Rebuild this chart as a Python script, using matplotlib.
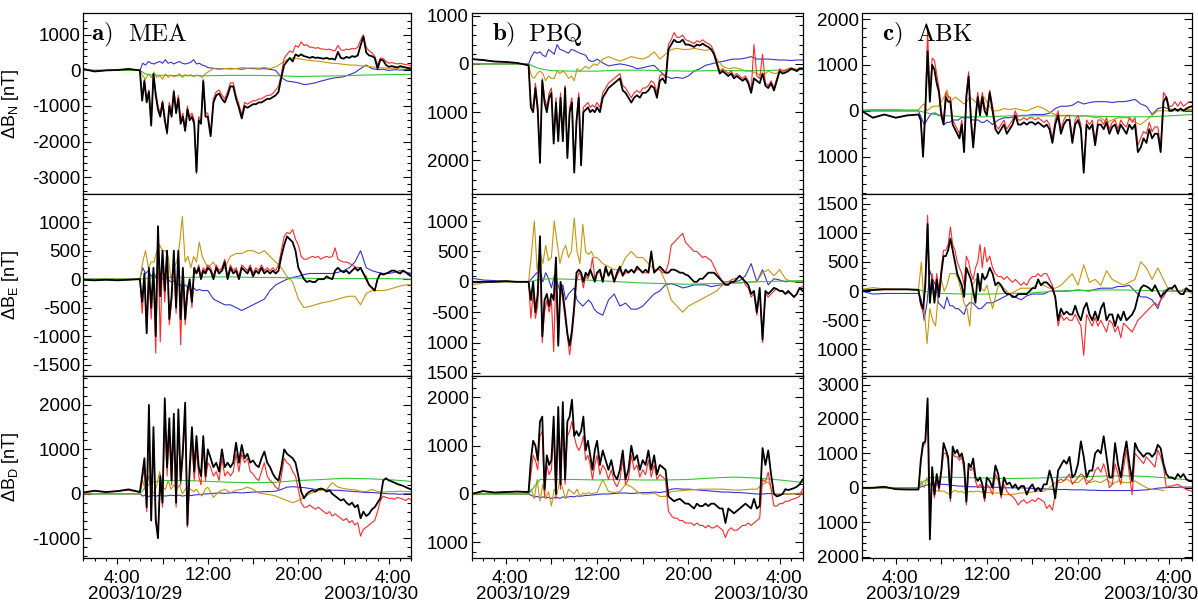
import numpy as np
import matplotlib
matplotlib.use('Agg')
import matplotlib.pyplot as plt
from matplotlib.ticker import FixedLocator, MultipleLocator, AutoMinorLocator

plt.rcParams['font.family'] = ['Liberation Sans', 'DejaVu Sans']
plt.rcParams['mathtext.fontset'] = 'custom'
plt.rcParams['mathtext.rm'] = 'Liberation Sans'
plt.rcParams['mathtext.it'] = 'Liberation Sans:italic'
plt.rcParams['mathtext.bf'] = 'Liberation Sans:bold'

nan = float('nan')

def flat(rows):
    return np.array([v for r in rows for v in r], dtype=float)

# ---------------- time grids (hours since 2003/10/29 00:00 UT) ----------------
T_KR = np.concatenate([np.arange(1.0, 6.5, 1.0), 6.0 + 0.2 * np.arange(1, 31), 12.0 + 0.25 * np.arange(1, 73)])
T_B = np.concatenate([np.arange(1.0, 6.5, 1.0), 6.0 + 0.25 * np.arange(1, 25), 12.0 + 0.5 * np.arange(1, 37)])
T_G = np.array([1, 3, 5, 6, 6.5, 7, 8, 10, 12, 14, 16, 18, 20, 22, 24, 26, 28, 30], dtype=float)

# ================= MEA =================
MEA_N_black = flat([
    [40, -30, 0, 10, 40, 0],
    [-850, -300, -900, -600, -1550], [-100, -700, -1100, -1300, -900], [-1400, -1750, -1000, -1300, -600],
    [-1200, -800, -1500, -1300, -1700], [-1100, -1400, -1300, -1500, -2850], [-1400, -1500, -300, -1300, -1300],
    [-1850, -900, -700, -650], [-800, -900, -700, -450], [-450, -800, -1050, -1350], [-1000, -1050, -1000, -950],
    [-950, -900, -900, -850], [-800, -800, -750, -700], [-600, -200, 150, 250], [350, 250, 450, 400],
    [450, 400, 380, 350], [380, 350, 360, 340], [330, 350, 320, 330], [300, 520, 350, 330],
    [380, 350, 400, 380], [420, 700, 950, 500], [420, 400, 350, 50], [300, 280, 150, 100],
    [120, 100, 80, 120], [100, 80, 60, 50]])
MEA_N_red = flat([
    [40, -30, 0, 10, 40, 0],
    [-800, -250, -850, -550, -1500], [-100, -600, -1000, -1200, -850], [-1300, -1800, -900, -1200, -550],
    [-1100, -700, -1400, -1200, -1650], [-1000, -1300, -1200, -1400, -2900], [-1300, -1400, -250, -1200, -1200],
    [-1800, -800, -600, -550], [-700, -800, -600, -350], [-350, -700, -950, -1250], [-900, -950, -900, -850],
    [-850, -800, -800, -750], [-700, -700, -650, -550], [-450, -100, 350, 450], [550, 500, 700, 650],
    [800, 700, 720, 650], [650, 620, 640, 600], [600, 580, 600, 560], [550, 700, 580, 560],
    [600, 580, 620, 600], [650, 850, 1000, 650], [550, 500, 400, 150], [350, 330, 250, 200],
    [220, 200, 180, 200], [180, 160, 150, 130]])
MEA_N_blue = flat([
    [0, 0, 0, 0, 0, 0],
    [200, 150, 250, 200], [180, 220, 250, 200], [300, 200, 230, 180], [220, 250, 200, 180],
    [200, 230, 300, 180], [200, 150, 130, 80],
    [60, 40, 50, 40], [50, 30, 60, 50], [40, 50, 30, 0], [-200, -300, -320, -350], [-400, -380, -350, -300],
    [-260, -220, -200, -180], [-120, -60, 50, 150], [50, 20, 30, 0], [20, 10, 20, 30]])
MEA_N_gold = flat([
    [0, 0, 0, 0, 0, 0],
    [-150, -250, -100, -200], [-50, -200, -150, -250], [-100, -200, -130, -180], [-150, -100, -200, -120],
    [-150, -120, -180, -130], [-150, -200, -100, -50],
    [50, 30, 50, 60], [50, 80, 60, 70], [60, 80, 50, 100], [200, 300, 350, 330], [300, 280, 260, 250],
    [220, 200, 190, 170], [150, 150, 130, 120], [100, 80, 70, 60], [60, 70, 80, 90]])
MEA_N_green = [0, 0, 0, 0, -100, -130, -140, -150, -150, -140, -140, -150, -170, -160, -150, -130, -120, -110]

MEA_E_black = flat([
    [-10, -20, -10, -20, -10, 0],
    [-400, 100, -950, 200, -500], [200, -1000, 930, -300, 500], [-200, 500, -700, -300, 500],
    [-500, 500, -700, 200, -700], [-200, 0, -400, 200, 100], [200, 0, 150, 100, 200],
    [150, 0, 200, 100], [150, 300, 0, 200], [100, 150, 0, 200], [150, 100, 200, 50],
    [150, 100, 200, 100], [150, 100, 150, 100], [150, 400, 600, 750], [700, 650, 500, 200],
    [100, 0, -50, -30], [-50, -50, 0, 0], [0, 50, 20, 0], [150, 200, 150, 120],
    [150, 100, 150, 200], [150, 200, 100, 0], [-100, -150, -200, 0], [100, 80, 100, 120],
    [150, 150, 120, 100], [150, 120, 80, 50]])
MEA_E_red = flat([
    [-10, -20, -10, -20, -10, 0],
    [-600, 0, -900, 100, -700], [100, -1300, 600, -1100, 400], [-400, 500, -800, -400, 300],
    [-600, 400, -1150, 100, -800], [-300, -100, -500, 150, 100], [250, 50, 200, 150, 250],
    [200, 50, 250, 150], [200, 350, 50, 250], [150, 200, 50, 250], [200, 150, 250, 100],
    [200, 150, 250, 150], [200, 150, 200, 150], [250, 500, 750, 820], [800, 870, 700, 600],
    [400, 350, 350, 380], [400, 380, 400, 350], [380, 400, 380, 400], [550, 350, 320, 300],
    [300, 280, 250, 220], [200, 200, 100, 50], [-100, -150, -200, 0], [100, 80, 100, 120],
    [150, 150, 120, 100], [150, 120, 80, 50]])
MEA_E_blue = flat([
    [0, 0, 0, 0, 0, 0],
    [200, 100, 150, 50], [100, 0, 50, 0], [20, 0, -50, -30], [-100, -80, -150, -100],
    [-150, -200, -150, -200], [-180, -200, -200, -200],
    [-350, -400, -450, -450], [-500, -550, -500, -450], [-400, -350, -200, -100], [-50, 0, 30, 50],
    [80, 100, 100, 100], [100, 100, 120, 150], [200, 300, 500, 200], [150, 120, 100, 100],
    [120, 150, 120, 100]])
MEA_E_gold = flat([
    [0, 0, 0, 0, 0, 0],
    [300, 500, 200, 300], [300, 500, 600, 500], [500, 400, 0, 200], [300, 600, 1100, 300],
    [400, 200, 400, 300], [650, 400, 300, 200],
    [300, 100, 200, 400], [450, 450, 500, 500], [450, 500, 400, 300], [200, 50, -50, -350],
    [-500, -480, -450, -420], [-400, -380, -350, -320], [-300, -300, -450, -250], [-200, -200, -200, -180],
    [-150, -120, -100, -100]])
MEA_E_green = [0, 0, 0, 0, 10, 20, 30, 30, 40, 40, 30, 30, 20, 10, 10, 10, 10, 0]

MEA_D_black = flat([
    [30, 70, 40, 60, 100, 40],
    [400, 800, -300, 2000, -600], [1500, -600, -1000, 400, -200], [2150, 600, 1700, 300, 1800],
    [-200, 1900, 300, 1000, 2050], [-700, 600, 1500, 500, 1300], [600, 400, 1300, 400, 1000],
    [800, 600, 700, 500], [1000, 600, 700, 600], [700, 1150, 700, 1100], [800, 900, 700, 750],
    [650, 600, 800, 950], [700, 600, 450, 350], [300, 600, 1000, 900], [850, 800, 700, 400],
    [50, -100, 0, 50], [80, 50, 100, 120], [100, 50, 80, 0], [-50, -100, -150, -120],
    [-200, -250, -200, -300], [-250, -550, -400, -500], [-450, -350, -300, -200], [-100, 300, 350, 300],
    [280, 250, 220, 200], [180, 150, 120, 100]])
MEA_D_red = flat([
    [30, 60, 40, 60, 80, 40],
    [300, 600, -400, 1600, -550], [1300, -500, -900, 300, -300], [1800, 400, 1400, 200, 1400],
    [-300, 1500, 200, 800, 1700], [-750, 400, 1200, 300, 1000], [400, 200, 1100, 300, 700],
    [600, 400, 500, 300], [800, 400, 500, 400], [500, 900, 500, 900], [700, 800, 500, 450],
    [350, 300, 500, 700], [400, 300, 250, 150], [100, 400, 800, 700], [650, 500, 400, 100],
    [-200, -300, -300, -250], [-300, -350, -300, -350], [-400, -450, -400, -500], [-450, -500, -550, -600],
    [-550, -650, -600, -700], [-650, -950, -800, -750], [-700, -650, -600, -400], [-150, -50, -80, -100],
    [-100, -120, -80, -100], [-120, -150, -100, -150]])
MEA_D_blue = flat([
    [0, 0, 0, 0, 0, 0],
    [-50, -30, -60, -40], [-40, -50, -30, -40], [-50, -40, -30, -40], [-40, -30, -50, -40],
    [-30, -40, -30, -20], [-20, -10, 0, 0],
    [10, 20, 10, 20], [30, 20, 30, 40], [40, 50, 50, 60], [100, 150, 160, 150], [140, 120, 100, 100],
    [90, 80, 80, 70], [60, 50, 40, 30], [30, 20, 10, 0], [0, -10, 0, 0]])
MEA_D_gold = flat([
    [0, 0, 0, 0, 0, 0],
    [300, 50, 400, 100], [0, 200, 500, 150], [100, 300, 100, 200], [100, 200, 0, 100],
    [150, 100, 50, 100], [0, -50, 100, 150],
    [-80, 50, 100, 30], [80, 100, 150, 100], [20, 0, -20, -50], [-100, -150, -200, -150], [-80, 0, 50, 80],
    [100, 250, 150, 120], [100, 90, 60, 50], [100, 50, 40, 50], [50, 60, 50, 50]])
MEA_D_green = [0, 0, 0, 0, 150, 250, 300, 300, 280, 260, 250, 260, 300, 320, 350, 340, 320, 280]

# ================= PBQ =================
PBQ_N_black = flat([
    [100, 80, 50, 40, 20, -30],
    [-900, -1000, -500, -950, -2050], [-350, -800, -1000, -700, -600], [-1650, -800, -1600, -700, -1600],
    [-500, -1950, -1000, -800, -2250], [-1200, -700, -2100, -1000, -950], [-900, -1000, -950, -1000, -900],
    [-1000, -700, -600, -500], [-450, -400, -350, -300], [-550, -600, -700, -800], [-700, -650, -700, -600],
    [-600, -550, -450, -500], [-700, -350, -300, -400], [300, 400, 500, 450], [450, 500, 400, 400],
    [380, 350, 400, 380], [420, 380, 350, 300], [200, 0, -200, -150], [-200, -250, -200, -300],
    [-250, -300, -350, -300], [-400, -600, -300, -350], [-400, -200, -450, -500], [-400, -550, -350, -150],
    [-200, -180, -150, -100], [-120, -150, -100, -100]])
PBQ_N_red = flat([
    [100, 80, 50, 40, 20, -30],
    [-800, -900, -400, -850, -2000], [-300, -700, -900, -600, -500], [-1600, -700, -1550, -600, -1550],
    [-450, -1900, -900, -700, -2200], [-1100, -600, -2050, -900, -850], [-800, -900, -850, -900, -800],
    [-900, -600, -500, -400], [-350, -300, -250, -200], [-450, -500, -600, -700], [-600, -550, -600, -500],
    [-500, -450, -350, -400], [-600, -250, -200, -300], [400, 500, 650, 550], [550, 600, 500, 480],
    [450, 420, 480, 450], [500, 450, 420, 380], [250, 50, -150, -100], [-150, -200, -150, -250],
    [-200, -250, -300, -250], [-350, -550, 400, -250], [-300, 200, -400, -450], [-350, -500, -300, -100],
    [-150, -130, -100, -80], [-100, -120, -80, -80]])
PBQ_N_blue = flat([
    [0, 0, 0, 0, 0, 0],
    [150, 250, 220, 250], [180, 150, 300, 250], [200, 400, 300, 280], [250, 220, 300, 280],
    [250, 220, 200, 180], [80, 50, 60, 100],
    [20, -40, -20, 0], [-20, -50, -100, -80], [-50, -30, -150, -250], [-300, -280, -300, -250],
    [-150, -100, -30, 0], [30, 50, 80, 100], [100, 120, 150, 100], [100, 100, 90, 80], [80, 70, 80, 80]])
PBQ_N_gold = flat([
    [0, 0, 0, 0, 0, -20],
    [-250, -300, -200, -150], [-200, -350, -250, -300], [-300, -150, -200, -150], [-200, -300, -250, -350],
    [-100, -150, -100, -50], [-100, -50, 0, -30],
    [100, 150, 100, 60], [100, 150, 120, 100], [150, 250, 100, 200], [300, 320, 300, 300],
    [320, 300, 280, 300], [100, -50, -100, -80], [-100, -150, -150, -200], [-250, -150, -200, -180],
    [-150, -100, -120, -100]])
PBQ_N_green = [0, 0, 0, 0, -60, -100, -140, -150, -150, -130, -130, -140, -150, -140, -140, -140, -130, -120]

PBQ_E_black = flat([
    [0, 0, 0, 10, 0, 0],
    [-300, 0, -500, -200, 750], [-900, -300, -200, -400, -200], [-300, 400, -1050, 0, -200],
    [-500, -850, -1050, -800, -400], [150, 200, 150, 0, 150], [100, 200, 100, 0, 150],
    [200, 0, 250, 100], [200, 0, 150, 250], [100, 200, 150, 200], [150, 250, 200, 150],
    [200, 150, 500, 150], [200, 250, 200, 150], [150, 200, 200, 180], [150, 150, 120, 100],
    [50, 0, 0, 50], [50, 100, 150, 150], [150, 100, 50, 0], [-50, -50, 0, 0],
    [50, 100, 50, 0], [-50, -200, -150, -500], [-100, -950, -150, -200], [-150, -100, -120, -150],
    [-150, -200, -150, -200], [-250, -200, -100, -150]])
PBQ_E_red = flat([
    [0, 0, 0, 10, 0, 0],
    [-600, -200, -600, -400, 600], [-1000, -500, -300, -500, -300], [-1150, 200, -1000, -100, -300],
    [-600, -900, -1200, -900, -500], [0, 150, 100, -100, 100], [50, 150, 400, 50, 150],
    [150, 0, 200, 100], [150, 0, 100, 200], [100, 150, 150, 200], [150, 200, 200, 150],
    [150, 150, 450, 150], [200, 200, 150, 150], [300, 600, 650, 700], [750, 800, 650, 600],
    [550, 500, 500, 450], [400, 420, 380, 350], [250, 150, 80, 0], [0, 0, 30, 50],
    [50, 100, 50, -50], [-100, -250, -200, -550], [-150, -1000, -200, -250], [-200, -150, -120, -150],
    [-150, -200, -180, -200], [-250, -200, -100, -80]])
PBQ_E_blue = flat([
    [60, 30, 20, 10, 0, 0],
    [50, 100, 150, 200], [0, 150, 50, -100], [100, 0, -150, -50], [-300, -200, -150, -100],
    [-300, -350, -400, -350], [-300, -350, -450, -500],
    [-550, -300, -200, -400], [-350, -450, -450, -400], [-300, -200, -150, -50], [-30, -60, -100, -80],
    [-50, -50, -50, -80], [-60, -50, -30, 0], [20, 100, 300, 0], [200, -50, 50, 30], [0, 10, 0, 0]])
PBQ_E_gold = flat([
    [-50, -20, 0, 0, 0, 0],
    [450, 1000, 200, 500], [300, 600, 350, 400], [1000, 650, 300, 500], [600, 400, 500, 1050],
    [500, 300, 950, 500], [450, 500, 400, 400],
    [300, 250, 200, 200], [400, 500, 400, 400], [300, 200, 200, 0], [-300, -400, -500, -400],
    [-350, -300, -250, -200], [-150, -50, -30, -20], [-20, -10, 0, 0], [150, 200, 100, 200], [50, 0, 0, 0]])
PBQ_E_green = [0, 0, 0, 0, 20, 40, 50, 40, 20, 0, -20, -30, -40, -30, -20, 0, 10, 20]

PBQ_D_black = flat([
    [0, 60, 30, 40, 50, 40],
    [700, 1100, 1000, 700, 1500], [1600, 100, 800, 600, 700], [1600, 0, 1800, 200, 1900],
    [300, 1500, 1600, 1950, 1200], [1300, 1200, 1300, 1600, 900], [1100, 800, 500, 900, 1100],
    [600, 900, 700, 500], [700, 400, 300, 500], [900, 300, 500, 1000], [700, 800, 500, 700],
    [600, 900, 500, 800], [400, 600, 550, 500], [-50, -100, -150, -120], [-100, -150, -200, -200],
    [-250, -300, -200, -250], [-250, -200, -250, -200], [-200, -250, -300, -300], [-600, -300, -350, -400],
    [-350, -300, -250, -200], [-250, -300, -100, -300], [-250, 950, 600, 900], [400, 0, -50, -30],
    [0, 100, 80, 100], [120, 150, 200, 300]])
PBQ_D_red = flat([
    [0, 60, 30, 40, 50, 40],
    [400, 800, 700, 500, 1200], [1300, -50, 600, 400, 500], [1300, -100, 1400, 100, 1500],
    [200, 1200, 1300, 1500, 1200], [1000, 900, 1000, 1200, 700], [800, 600, 300, 600, 800],
    [400, 600, 500, 300], [500, 250, 150, 300], [700, 200, 300, 800], [500, 600, 350, 500],
    [400, 700, 350, 600], [300, 400, 350, 300], [-350, -450, -500, -500], [-550, -550, -600, -600],
    [-600, -650, -600, -650], [-650, -700, -650, -700], [-700, -650, -700, -750], [-900, -750, -700, -750],
    [-750, -700, -650, -650], [-600, -650, -600, -550], [-500, 300, 250, 450], [100, -250, -250, -200],
    [-200, -150, -150, -120], [-100, -80, -50, 100]])
PBQ_D_blue = flat([
    [0, 0, 0, 0, 0, 0],
    [-30, -60, -50, -80], [-60, -80, -70, -90], [-80, -70, -90, -60], [-70, -60, -50, -60],
    [-40, -50, -40, -30], [-30, -20, -20, -10],
    [0, 0, 10, 20], [20, 10, 20, 30], [30, 40, 30, 50], [100, 110, 100, 100], [90, 80, 70, 60],
    [50, 40, 40, 30], [30, 20, 10, 0], [0, 10, 0, -10], [0, 0, 10, 20]])
PBQ_D_gold = flat([
    [0, 0, 0, 0, 0, 0],
    [100, -100, 300, -150], [200, -100, 50, -250], [100, 0, 300, 100], [-100, 100, 50, 0],
    [100, -50, 20, 0], [30, 0, 20, 30],
    [300, 50, 30, 50], [200, 150, 50, 0], [0, 20, -50, -50], [50, 60, 70, 80], [90, 100, 100, 100],
    [100, 100, 90, 80], [80, 90, 100, 100], [200, 250, 0, 0], [0, 0, 0, 0]])
PBQ_D_green = [0, 0, 0, 0, 150, 300, 300, 300, 290, 300, 290, 290, 300, 330, 350, 330, 290, 240]

# ================= ABK =================
ABK_N_black = flat([
    [0, -150, -80, -150, -100, -80],
    [-200, -1000, 0, 1300, 200], [1000, 900, 600, 400, -100], [-300, 300, 200, 200, -300],
    [-400, -500, -600, -300, -900], [300, 750, -200, -800, -200], [300, -100, 300, 0, -100],
    [400, 0, -400, -500], [-400, -300, -500, -400], [-300, -100, -300, -300], [-250, -300, -250, -250],
    [-300, -250, -300, -350], [-300, -400, -700, -300], [-100, -500, -300, -200], [-200, -700, -300, -200],
    [-400, -1350, -300, -400], [-300, -750, -300, -300], [-400, -250, -500, -350], [-300, -500, -300, -400],
    [-500, -300, -400, -300], [-900, -800, -600, -700], [-400, -600, -500, -500], [-900, 200, 300, 0],
    [0, 50, 0, 50], [0, 50, 80, 100]])
ABK_N_red = flat([
    [0, -150, -80, -150, -100, -80],
    [-200, -1000, 100, 1750, 300], [1150, 1100, 800, 500, 0], [-200, 400, 300, 300, -200],
    [-300, -400, -500, -200, -800], [400, 850, -100, -700, -100], [400, 0, 400, 100, 0],
    [450, 100, -300, -400], [-300, -200, -400, -300], [-200, 0, -200, -200], [-150, -200, -150, -150],
    [-200, -150, -200, -250], [-200, -300, -600, -200], [0, -400, -200, -100], [-100, -600, -200, -100],
    [-300, -1300, -200, -300], [-200, -650, -200, -200], [-300, -150, -400, -250], [-200, -400, -200, -300],
    [-350, -150, -250, -150], [-750, -600, -450, -500], [-250, -450, -350, -350], [-800, 400, 300, 100],
    [100, 200, 100, 200], [100, 150, 200, 200]])
ABK_N_blue = flat([
    [0, 0, 0, 0, 0, 0],
    [-150, -300, -200, -100], [-50, -50, -100, -100], [-300, -250, -250, -200], [-200, -200, -150, -150],
    [-150, -150, -200, -200], [-200, -250, -250, -200],
    [-300, -200, -150, -150], [-120, -100, -100, -80], [-80, -80, -50, 50], [100, 100, 120, 200],
    [150, 180, 200, 200], [200, 180, 200, 200], [220, 250, 150, 100], [-80, 50, 80, 40], [20, 30, 20, 20]])
ABK_N_gold = flat([
    [20, 30, 30, 30, 20, 20],
    [100, 150, 0, 50], [100, 100, 100, 200], [300, 450, 200, 250], [300, 250, 200, 150],
    [200, 300, 250, 200], [100, 250, 300, 200],
    [0, 0, 50, 30], [50, 20, 0, 50], [100, 50, -30, -80], [-100, -100, -100, -120],
    [-100, -120, -150, -150], [-250, -200, -150, -150], [-150, -250, -300, -200], [-100, 0, 0, 0], [0, 0, 0, 0]])
ABK_N_green = [0, 0, 0, 0, -30, -60, -100, -130, -130, -110, -110, -110, -110, -120, -130, -130, -110, -80]

ABK_E_black = flat([
    [0, 20, 30, 30, 30, 20],
    [-200, -300, 100, 1150, -200], [200, -200, 200, -100, 300], [600, 600, 700, 900, 700],
    [500, 300, 200, 100, -100], [400, 300, 200, 0, -200], [300, 0, 300, 200, 250],
    [400, 300, 100, 150], [100, 0, -50, -50], [-100, -100, -50, -50], [-50, -50, 0, 50],
    [50, 200, 100, 150], [150, 100, 50, -100], [-500, -300, -400, -350], [-400, -400, -250, -400],
    [-500, -300, -200, -400], [-500, -350, -500, -300], [-200, -500, -400, -400], [-600, -400, -500, -350],
    [-500, -450, -400, -300], [-100, 50, 100, 80], [50, 0, 100, 0], [-100, -50, 0, 50],
    [50, 100, 0, -50], [-50, 50, 0, 0]])
ABK_E_red = flat([
    [0, 20, 30, 30, 30, 20],
    [-250, -350, 200, 1300, -150], [300, -100, 300, 0, 400], [700, 700, 800, 1100, 800],
    [700, 500, 400, 300, 100], [600, 500, 300, 200, 400], [500, 800, 400, 750, 500],
    [600, 400, 300, 250], [250, 200, 250, 200], [150, 200, 150, 100], [150, 100, 200, 250],
    [250, 300, 250, 300], [300, 200, 100, -100], [-600, -400, -500, -450], [-500, -500, -400, -500],
    [-600, -1100, -400, -500], [-600, -450, -600, -500], [-600, -700, -500, -550], [-700, -600, -800, -550],
    [-600, -650, -700, -600], [-500, -450, -400, -350], [-300, -250, -200, -250], [-150, -100, 0, 50],
    [50, 100, 0, -50], [-50, 50, 0, 0]])
ABK_E_blue = flat([
    [0, -50, -40, -40, -40, -40],
    [-150, -500, -200, 350], [200, 100, -200, -250], [-300, -100, -250, -250], [-300, -300, -350, -400],
    [-250, -200, -200, -250], [-300, -300, -250, -200],
    [-200, -150, -100, -50], [-100, -150, -80, -50], [-50, -50, 0, 0], [0, 0, 10, 20], [10, 0, 30, 50],
    [50, 50, 80, 80], [100, 0, -100, -100], [-150, -300, 0, 50], [0, 0, 50, 0]])
ABK_E_gold = flat([
    [30, 60, 40, 30, 30, 30],
    [500, -300, -900, -300], [-500, -600, 0, 200], [0, 100, 300, 300], [300, 200, 0, -200],
    [-300, -600, 100, 200], [200, 50, 0, 100],
    [-300, 100, 50, -50], [0, 50, 50, 50], [150, 100, 50, 50], [100, 200, 300, 100], [450, 150, 200, 100],
    [350, 200, 150, 100], [150, 200, 500, 400], [200, 400, 200, 0], [0, 0, 50, -50]])
ABK_E_green = [30, 30, 30, 30, 0, -20, -40, -50, -50, -40, -30, 0, 10, 20, 20, 10, 0, -10]

ABK_D_black = flat([
    [0, 0, 30, -40, -50, -50],
    [800, 1300, 1350, 2600, -1500], [600, -200, 400, 0, 500], [1300, 1100, 900, -300, 1200],
    [1000, 1100, 900, 1000, 700], [-400, 700, 600, 850, 300], [200, 300, 100, -300, 300],
    [200, 0, 650, 400], [-200, 300, 100, 150], [0, 100, -50, 50], [50, -200, 0, 100],
    [-100, 0, -100, 100], [100, 500, 200, -300], [500, 650, 800, 700], [900, 300, 400, 700],
    [1350, 900, 300, 500], [500, 1000, 1100, 1000], [1500, 900, 300, 300], [1300, 700, 300, 900],
    [1350, 700, 200, 1300], [1100, 1000, 900, 1000], [1000, 900, 1000, 1250], [1150, 700, 400, 300],
    [300, 250, 400, 300], [400, 250, 200, 200]])
ABK_D_red = flat([
    [0, 0, 30, -40, -50, -50],
    [700, 1200, 1300, 2500, -600], [500, -300, 300, -100, 400], [1000, 1000, 800, -400, 1000],
    [900, 900, 800, 900, 500], [-500, 600, 500, 600, 200], [0, 100, 0, -400, 100],
    [0, -200, 400, 200], [-300, 100, -100, -200], [-250, -350, -500, -400], [-350, -450, -400, -350],
    [-400, -300, -350, -400], [-600, -500, -650, -200], [200, 250, 200, 300], [400, 100, 200, 300],
    [400, 350, 100, 200], [250, 500, 600, 450], [700, 400, 0, 100], [700, 400, 100, 600],
    [1100, 400, -200, 1000], [900, 800, 700, 900], [800, 700, 600, 1100], [900, 600, 0, 50],
    [50, 80, 100, 50], [0, -50, -80, -100]])
ABK_D_blue = flat([
    [0, 0, 0, 0, 0, 0],
    [30, 60, 80, 100], [100, 100, 110, 100], [100, 90, 80, 70], [60, 50, 50, 40],
    [40, 30, 30, 30], [20, 20, 20, 20],
    [20, 10, 0, 0], [0, 0, -10, -20], [-20, -30, -40, -50], [-50, -50, -60, -60], [-60, -70, -70, -80],
    [-80, -80, -80, -80], [-80, -80, -70, -60], [-40, -10, 0, 10], [10, 20, 20, 20]])
ABK_D_gold = flat([
    [0, 0, 0, 0, 0, 0],
    [200, 0, 300, -100], [-50, -100, -80, -100], [-100, -150, -200, -100], [-80, -120, -100, -150],
    [-150, -100, -120, -100], [-100, -120, -150, -130],
    [-150, -150, -200, -200], [-180, -150, -150, -120], [-100, -100, 0, 150], [150, 250, 150, 150],
    [300, 150, 200, 150], [250, 100, 200, 150], [150, 200, 100, 0], [-50, -50, -80, nan], [nan, nan, nan, nan]])
ABK_D_green = [0, 0, 0, 0, 200, 300, 310, 300, 280, 270, 280, 300, 320, 340, 350, 330, 280, 220]

# ---------------- axis settings ----------------
YLIMS = {
    ('MEA', 'N'): (-3480, 1620), ('MEA', 'E'): (-1700, 1490), ('MEA', 'D'): (-1450, 2650),
    ('PBQ', 'N'): (-2700, 1060), ('PBQ', 'E'): (-1550, 1440), ('PBQ', 'D'): (-1330, 2440),
    ('ABK', 'N'): (-1820, 2140), ('ABK', 'E'): (-1455, 1660), ('ABK', 'D'): (-2050, 3250),
}
YTICKS = {
    ('MEA', 'N'): ([1000, 0, -1000, -2000, -3000], ['1000', '0', '-1000', '-2000', '-3000']),
    ('MEA', 'E'): ([1000, 500, 0, -500, -1000, -1500], ['1000', '500', '0', '-500', '-1000', '-1500']),
    ('MEA', 'D'): ([2000, 1000, 0, -1000], ['2000', '1000', '0', '-1000']),
    ('PBQ', 'N'): ([1000, 0, -1000, -2000], ['1000', '0', '1000', '2000']),
    ('PBQ', 'E'): ([1000, 500, 0, -500, -1000, -1500], ['1000', '500', '0', '-500', '1000', '1500']),
    ('PBQ', 'D'): ([2000, 1000, 0, -1000], ['2000', '1000', '0', '1000']),
    ('ABK', 'N'): ([2000, 1000, 0, -1000], ['2000', '1000', '0', '1000']),
    ('ABK', 'E'): ([1500, 1000, 500, 0, -500, -1000], ['1500', '1000', '500', '0', '-500', '1000']),
    ('ABK', 'D'): ([3000, 2000, 1000, 0, -1000, -2000], ['3000', '2000', '1000', '0', '1000', '2000']),
}
DATA = {
    ('MEA', 'N'): (MEA_N_black, MEA_N_red, MEA_N_blue, MEA_N_gold, MEA_N_green),
    ('MEA', 'E'): (MEA_E_black, MEA_E_red, MEA_E_blue, MEA_E_gold, MEA_E_green),
    ('MEA', 'D'): (MEA_D_black, MEA_D_red, MEA_D_blue, MEA_D_gold, MEA_D_green),
    ('PBQ', 'N'): (PBQ_N_black, PBQ_N_red, PBQ_N_blue, PBQ_N_gold, PBQ_N_green),
    ('PBQ', 'E'): (PBQ_E_black, PBQ_E_red, PBQ_E_blue, PBQ_E_gold, PBQ_E_green),
    ('PBQ', 'D'): (PBQ_D_black, PBQ_D_red, PBQ_D_blue, PBQ_D_gold, PBQ_D_green),
    ('ABK', 'N'): (ABK_N_black, ABK_N_red, ABK_N_blue, ABK_N_gold, ABK_N_green),
    ('ABK', 'E'): (ABK_E_black, ABK_E_red, ABK_E_blue, ABK_E_gold, ABK_E_green),
    ('ABK', 'D'): (ABK_D_black, ABK_D_red, ABK_D_blue, ABK_D_gold, ABK_D_green),
}
STATIONS = ['MEA', 'PBQ', 'ABK']
PANEL_TAGS = ['a)', 'b)', 'c)']
COMPONENTS = ['N', 'E', 'D']
TIME_LABELS = [(4.4, '4:00'), (12.0, '12:00'), (20.0, '20:00'), (28.4, '4:00')]
DATE_LABELS = [(5.56, '2003/10/29'), (26.4, '2003/10/30')]

C_BLACK = '#000000'
C_RED = '#ff2828'
C_BLUE = '#3434d2'
C_GOLD = '#c8960a'
C_GREEN = '#32c832'

W, H = 1198, 605
COL_X = [(83.3, 411.5), (471.5, 802.5), (861.5, 1192.0)]
ROW_Y = [(12.7, 194.3), (194.3, 376.0), (376.0, 558.3)]
TAG_OFF = [(8, 45), (20.5, 57), (21, 55)]

fig = plt.figure(figsize=(W / 100, H / 100), dpi=100)

for ci, st in enumerate(STATIONS):
    for ri, comp in enumerate(COMPONENTS):
        x0, x1 = COL_X[ci]
        y0, y1 = ROW_Y[ri]
        ax = fig.add_axes([x0 / W, 1 - y1 / H, (x1 - x0) / W, (y1 - y0) / H])
        blk, red, blu, gld, grn = DATA[(st, comp)]
        assert len(blk) == len(T_KR) and len(red) == len(T_KR), (st, comp)
        assert len(blu) == len(T_B) and len(gld) == len(T_B), (st, comp)
        ax.plot(T_B, blu, color=C_BLUE, lw=0.8)
        ax.plot(T_B, gld, color=C_GOLD, lw=0.8)
        ax.plot(T_G, grn, color=C_GREEN, lw=0.8)
        ax.plot(T_KR, red, color=C_RED, lw=0.8)
        ax.plot(T_KR, blk, color=C_BLACK, lw=1.3)
        ax.set_xlim(1, 30)
        ax.set_ylim(*YLIMS[(st, comp)])
        ticks, labels = YTICKS[(st, comp)]
        ax.yaxis.set_major_locator(FixedLocator(ticks))
        ax.set_yticklabels(labels)
        ax.yaxis.set_minor_locator(AutoMinorLocator(5))
        ax.tick_params(axis='y', which='both', direction='in', left=True, right=True,
                       labelsize=13.5, pad=2, width=0.8)
        ax.tick_params(axis='y', which='major', length=6)
        ax.tick_params(axis='y', which='minor', length=3)
        for sp in ax.spines.values():
            sp.set_linewidth(0.9)
        if ri < 2:
            ax.tick_params(axis='x', which='both', bottom=False, top=False, labelbottom=False)
        else:
            ax.xaxis.set_major_locator(MultipleLocator(4))
            ax.xaxis.set_minor_locator(MultipleLocator(1))
            ax.tick_params(axis='x', which='both', direction='out', bottom=True, top=False,
                           labelbottom=False, width=0.8)
            ax.tick_params(axis='x', which='major', length=4)
            ax.tick_params(axis='x', which='minor', length=2.5)
            tr = ax.get_xaxis_transform()
            for xt, s in TIME_LABELS:
                yy = -0.066 if s == '4:00' else -0.046
                ax.text(xt, yy, s, transform=tr, ha='center', va='top', fontsize=13.5)
            for xt, s in DATE_LABELS:
                ax.text(xt, -0.150, s, transform=tr, ha='center', va='top', fontsize=13.5)
        if ci == 0:
            ax.set_ylabel('ΔB$_\\mathrm{%s}$ [nT]' % comp, fontsize=13)
            ax.yaxis.set_label_coords(-0.19, 0.5)
        if ri == 0:
            wpx = x1 - x0
            hpx = y1 - y0
            ax.text(TAG_OFF[ci][0] / wpx, 1 - 28 / hpx, r'$\mathbf{%s}$' % PANEL_TAGS[ci],
                    transform=ax.transAxes, fontsize=18, math_fontfamily='cm', va='baseline')
            ax.text(TAG_OFF[ci][1] / wpx, 1 - 28 / hpx, r'$\mathrm{%s}$' % st,
                    transform=ax.transAxes, fontsize=18, math_fontfamily='cm', va='baseline')

fig.savefig('out.png', dpi=100)
